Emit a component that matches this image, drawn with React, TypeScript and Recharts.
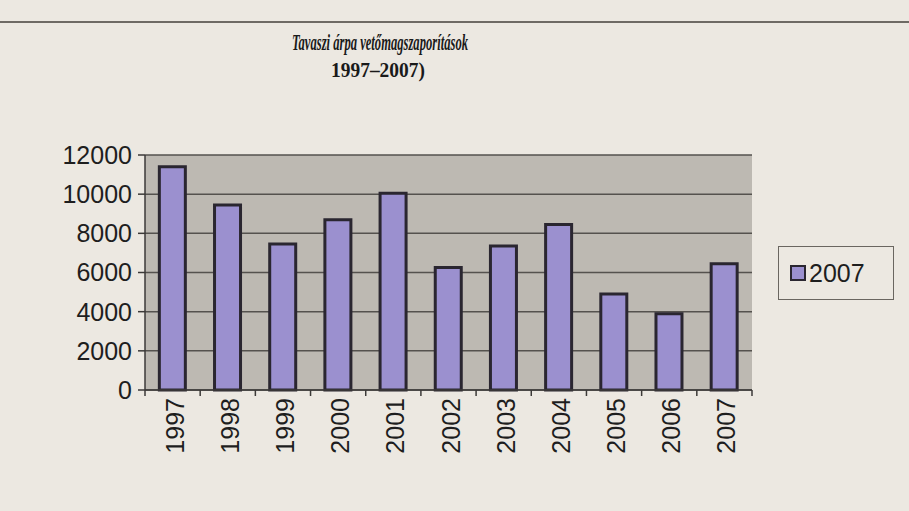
import React from "react"
import {
  BarChart,
  Bar,
  XAxis,
  YAxis,
  CartesianGrid,
} from "recharts"

const years = ["1997", "1998", "1999", "2000", "2001", "2002", "2003", "2004", "2005", "2006", "2007"]
const values2007 = [11400, 9450, 7450, 8700, 10050, 6250, 7350, 8450, 4900, 3900, 6450]
const yTicks = [0, 2000, 4000, 6000, 8000, 10000, 12000]

const data = years.map((year, i) => ({ year, value: values2007[i] }))

const FONT = "'Liberation Sans', Arial, sans-serif"
const TITLE_FONT = "'Liberation Serif', 'Times New Roman', serif"
const AXIS_COLOR = "#3c3a38"

// label plus Excel-style tick marks on the category boundaries
const YearTick = (props: any) => {
  const { x, y, payload, index } = props
  const half = payload.offset || 0
  const isLast = index === years.length - 1
  return (
    <g>
      <line x1={x - half} x2={x - half} y1={y} y2={y + 6} stroke={AXIS_COLOR} strokeWidth={1.5} />
      {isLast && (
        <line x1={x + half} x2={x + half} y1={y} y2={y + 6} stroke={AXIS_COLOR} strokeWidth={1.5} />
      )}
      <text
        x={0}
        y={0}
        transform={`translate(${x + 2},${y + 8}) rotate(-90)`}
        textAnchor="end"
        dominantBaseline="central"
        fontFamily={FONT}
        fontSize={25}
        fill="#1e1e1e"
      >
        {payload.value}
      </text>
    </g>
  )
}

const LegendBox = () => (
  <div
    style={{
      position: "absolute",
      left: 778,
      top: 246,
      width: 116,
      height: 54,
      border: "1px solid #6a6660",
      boxSizing: "border-box",
      display: "flex",
      alignItems: "center",
      paddingLeft: 11,
      fontFamily: FONT,
      fontSize: 25,
      color: "#1e1e1e",
    }}
  >
    <span
      style={{
        display: "inline-block",
        width: 12,
        height: 12,
        background: "#9b90cf",
        border: "2.5px solid #2a2630",
        marginRight: 3,
      }}
    />
    2007
  </div>
)

export default function App() {
  return (
    <div
      style={{
        position: "absolute",
        left: 0,
        top: 0,
        width: 909,
        height: 511,
        background: "#ece8e1",
        overflow: "hidden",
      }}
    >
      <div style={{ position: "absolute", left: 0, top: 21, width: 909, height: 2, background: "#6e6a64" }} />
      <svg width={909} height={100} style={{ position: "absolute", left: 0, top: 0 }}>
        <text
          x={380}
          y={50}
          textAnchor="middle"
          textLength={176}
          lengthAdjust="spacingAndGlyphs"
          fontFamily={TITLE_FONT}
          fontStyle="italic"
          fontWeight="bold"
          fontSize={23}
          fill="#1a1a1a"
        >
          Tavaszi árpa vetőmagszaporítások
        </text>
        <text
          x={378}
          y={77}
          textAnchor="middle"
          textLength={94}
          lengthAdjust="spacingAndGlyphs"
          fontFamily={TITLE_FONT}
          fontWeight="bold"
          fontSize={22}
          fill="#1a1a1a"
        >
          1997–2007)
        </text>
      </svg>
      <BarChart
        width={909}
        height={511}
        data={data}
        margin={{ top: 155, right: 157, left: 0, bottom: 0 }}
        barCategoryGap="26%"
        style={{ position: "absolute", left: 0, top: 0 }}
      >
        <CartesianGrid
          vertical={false}
          stroke="#55524e"
          strokeWidth={1.5}
          fill="#bdb9b2"
          fillOpacity={1}
        />
        <XAxis
          dataKey="year"
          height={121}
          tick={<YearTick />}
          tickSize={0}
          tickMargin={0}
          tickLine={false}
          axisLine={{ stroke: AXIS_COLOR, strokeWidth: 1.5 }}
          interval={0}
        />
        <YAxis
          width={145}
          domain={[0, 12000]}
          ticks={yTicks}
          interval={0}
          tickSize={7}
          tickMargin={6}
          axisLine={{ stroke: AXIS_COLOR, strokeWidth: 1.5 }}
          tickLine={{ stroke: AXIS_COLOR, strokeWidth: 1.5 }}
          tick={{ fontFamily: FONT, fontSize: 25, fill: "#1e1e1e" }}
        />
        <YAxis
          yAxisId="right"
          orientation="right"
          width={0}
          domain={[0, 12000]}
          tick={false}
          tickLine={false}
          axisLine={{ stroke: "#8a8680", strokeWidth: 1.5 }}
        />
        <Bar
          dataKey="value"
          name="2007"
          fill="#9b90cf"
          stroke="#2a2630"
          strokeWidth={3}
          isAnimationActive={false}
        />
      </BarChart>
      <LegendBox />
    </div>
  )
}
